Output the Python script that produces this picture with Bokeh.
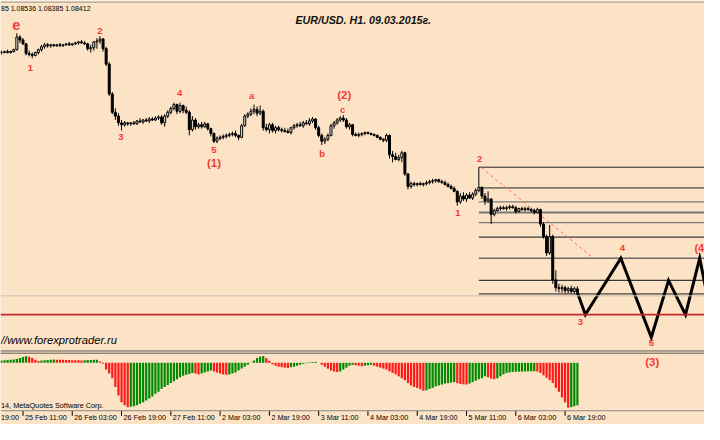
from bokeh.plotting import figure
from bokeh.models import Range1d, Span, Label, ColumnDataSource
from bokeh.core.properties import value
from bokeh.embed import file_html
from bokeh.resources import INLINE

# ---------------- data ----------------
bar = list(range(-7, 181))  # H1 bar index, 0 = 25 Feb 11:00

open_ = [1.1339, 1.1339, 1.1341, 1.1339, 1.1341, 1.1345, 1.1371,
         1.1365, 1.1357, 1.1337, 1.1335, 1.1333, 1.1339, 1.1345, 1.1351, 1.1355, 1.1353,
         1.1355, 1.1353, 1.1355, 1.1353, 1.1355, 1.1357, 1.1355, 1.1357, 1.1359, 1.1361,
         1.1359, 1.1357, 1.1347, 1.1349, 1.1361, 1.1363, 1.1367, 1.1347, 1.1315, 1.1253,
         1.1215, 1.1207, 1.1193, 1.1189, 1.1193, 1.1191, 1.1193, 1.1191, 1.1197, 1.1195,
         1.1199, 1.1197, 1.1201, 1.1199, 1.1203, 1.1205, 1.1193, 1.1207, 1.1215, 1.1223,
         1.1231, 1.1217, 1.1229, 1.1219, 1.1215, 1.1179, 1.1199, 1.1185, 1.1189, 1.1185,
         1.1191, 1.1181, 1.1171, 1.1155, 1.1161, 1.1163, 1.1165, 1.1167, 1.1169, 1.1171,
         1.1167, 1.1163, 1.1187, 1.1207, 1.1211, 1.1217, 1.1221, 1.1213, 1.1217, 1.1183,
         1.1179, 1.1189, 1.1177, 1.1183, 1.1179, 1.1177, 1.1175, 1.1173, 1.1183, 1.1187,
         1.1189, 1.1187, 1.1193, 1.1191, 1.1197, 1.1201, 1.1183, 1.1167, 1.1155, 1.1159,
         1.1167, 1.1187, 1.1193, 1.1199, 1.1203, 1.1199, 1.1185, 1.1189, 1.1169, 1.1167,
         1.1169, 1.1171, 1.1173, 1.1171, 1.1169, 1.1167, 1.1163, 1.1159, 1.1157, 1.1167,
         1.1127, 1.1123, 1.1117, 1.1121, 1.1131, 1.1087, 1.1061, 1.1067, 1.1065, 1.1067,
         1.1065, 1.1067, 1.1069, 1.1071, 1.1073, 1.1075, 1.1071, 1.1069, 1.1065, 1.1061,
         1.1057, 1.1051, 1.1029, 1.1041, 1.1035, 1.1043, 1.1037, 1.1045, 1.1053, 1.1059,
         1.1041, 1.1031, 1.1035, 1.1003, 1.1011, 1.1015, 1.1017, 1.1015, 1.1017, 1.1019,
         1.1017, 1.1009, 1.1015, 1.1013, 1.1015, 1.1013, 1.1011, 1.1007, 1.1013, 1.0983,
         1.0957, 1.0923, 1.0957, 1.0867, 1.0851, 1.0849, 1.0851, 1.0845, 1.0849, 1.0843,
         1.08485]

high = [1.1343, 1.1343, 1.1345, 1.1343, 1.1347, 1.1379, 1.1375,
        1.1369, 1.1359, 1.1343, 1.1339, 1.1341, 1.1347, 1.1355, 1.1359, 1.1359, 1.1357,
        1.1357, 1.1357, 1.1359, 1.1357, 1.1359, 1.1361, 1.1359, 1.1361, 1.1363, 1.1365,
        1.1363, 1.1359, 1.1355, 1.1363, 1.1369, 1.1373, 1.1369, 1.1351, 1.1319, 1.1257,
        1.1223, 1.1213, 1.1199, 1.1197, 1.1195, 1.1195, 1.1197, 1.1199, 1.1203, 1.1201,
        1.1203, 1.1205, 1.1205, 1.1207, 1.1209, 1.1209, 1.1211, 1.1219, 1.1227, 1.1235,
        1.1233, 1.1235, 1.1231, 1.1227, 1.1219, 1.1207, 1.1203, 1.1193, 1.1195, 1.1195,
        1.1193, 1.1183, 1.1173, 1.1165, 1.1167, 1.1169, 1.1171, 1.1173, 1.1175, 1.1177,
        1.1169, 1.1191, 1.1211, 1.1215, 1.1223, 1.1231, 1.1227, 1.1229, 1.1221, 1.1191,
        1.1193, 1.1193, 1.1187, 1.1187, 1.1183, 1.1183, 1.1181, 1.1185, 1.1191, 1.1193,
        1.1195, 1.1197, 1.1199, 1.1203, 1.1205, 1.1203, 1.1187, 1.1171, 1.1163, 1.1171,
        1.1191, 1.1197, 1.1203, 1.1207, 1.1209, 1.1203, 1.1193, 1.1191, 1.1173, 1.1173,
        1.1173, 1.1175, 1.1175, 1.1173, 1.1171, 1.1169, 1.1165, 1.1161, 1.1171, 1.1169,
        1.1135, 1.1131, 1.1127, 1.1135, 1.1133, 1.1089, 1.1071, 1.1071, 1.1069, 1.1071,
        1.1069, 1.1073, 1.1075, 1.1077, 1.1077, 1.1077, 1.1075, 1.1073, 1.1069, 1.1065,
        1.1061, 1.1053, 1.1047, 1.1049, 1.1047, 1.1049, 1.1049, 1.1057, 1.1101, 1.1061,
        1.1047, 1.1051, 1.1037, 1.1015, 1.1019, 1.1021, 1.1021, 1.1021, 1.1023, 1.1023,
        1.1021, 1.1017, 1.1019, 1.1019, 1.1019, 1.1017, 1.1015, 1.1017, 1.1015, 1.0987,
        1.0961, 1.0981, 1.0961, 1.0887, 1.0859, 1.0857, 1.0855, 1.0853, 1.0855, 1.0853,
        1.08536]

low = [1.1335, 1.1337, 1.1337, 1.1337, 1.1339, 1.1343, 1.1359,
       1.1355, 1.1333, 1.1331, 1.1327, 1.1331, 1.1335, 1.1341, 1.1347, 1.1349, 1.1349,
       1.1351, 1.1351, 1.1351, 1.1351, 1.1353, 1.1353, 1.1353, 1.1355, 1.1355, 1.1357,
       1.1355, 1.1343, 1.1339, 1.1343, 1.1347, 1.1357, 1.1341, 1.1311, 1.1249, 1.1211,
       1.1199, 1.1187, 1.1177, 1.1185, 1.1187, 1.1187, 1.1189, 1.1189, 1.1193, 1.1191,
       1.1195, 1.1193, 1.1197, 1.1197, 1.1199, 1.1189, 1.1185, 1.1203, 1.1211, 1.1219,
       1.1211, 1.1213, 1.1213, 1.1211, 1.1167, 1.1175, 1.1179, 1.1181, 1.1181, 1.1183,
       1.1177, 1.1165, 1.1151, 1.1151, 1.1157, 1.1159, 1.1161, 1.1163, 1.1165, 1.1163,
       1.1157, 1.1161, 1.1185, 1.1203, 1.1207, 1.1211, 1.1207, 1.1209, 1.1177, 1.1175,
       1.1171, 1.1173, 1.1171, 1.1175, 1.1173, 1.1173, 1.1171, 1.1169, 1.1179, 1.1183,
       1.1185, 1.1183, 1.1189, 1.1187, 1.1193, 1.1179, 1.1163, 1.1147, 1.1149, 1.1155,
       1.1165, 1.1181, 1.1189, 1.1195, 1.1195, 1.1181, 1.1179, 1.1165, 1.1165, 1.1163,
       1.1165, 1.1167, 1.1169, 1.1167, 1.1165, 1.1161, 1.1157, 1.1153, 1.1153, 1.1119,
       1.1111, 1.1115, 1.1113, 1.1111, 1.1083, 1.1055, 1.1057, 1.1061, 1.1061, 1.1063,
       1.1061, 1.1063, 1.1065, 1.1067, 1.1069, 1.1069, 1.1067, 1.1063, 1.1059, 1.1055,
       1.1049, 1.1021, 1.1025, 1.1031, 1.1029, 1.1035, 1.1033, 1.1041, 1.1049, 1.1035,
       1.1023, 1.1027, 1.0983, 1.0999, 1.1009, 1.1011, 1.1013, 1.1011, 1.1013, 1.1015,
       1.1005, 1.1007, 1.1011, 1.1009, 1.1011, 1.1007, 1.1003, 1.1005, 1.0977, 1.0953,
       1.0917, 1.0919, 1.0859, 1.0843, 1.0841, 1.0841, 1.0839, 1.0839, 1.0839, 1.0839,
       1.08385]

close = [1.1339, 1.1341, 1.1339, 1.1341, 1.1345, 1.1371, 1.1365,
         1.1357, 1.1337, 1.1335, 1.1333, 1.1339, 1.1345, 1.1351, 1.1355, 1.1353, 1.1355,
         1.1353, 1.1355, 1.1353, 1.1355, 1.1357, 1.1355, 1.1357, 1.1359, 1.1361, 1.1359,
         1.1357, 1.1347, 1.1349, 1.1361, 1.1363, 1.1367, 1.1347, 1.1315, 1.1253, 1.1215,
         1.1207, 1.1193, 1.1189, 1.1193, 1.1191, 1.1193, 1.1191, 1.1197, 1.1195, 1.1199,
         1.1197, 1.1201, 1.1199, 1.1203, 1.1205, 1.1193, 1.1207, 1.1215, 1.1223, 1.1231,
         1.1217, 1.1229, 1.1219, 1.1215, 1.1179, 1.1199, 1.1185, 1.1189, 1.1185, 1.1191,
         1.1181, 1.1171, 1.1155, 1.1161, 1.1163, 1.1165, 1.1167, 1.1169, 1.1171, 1.1167,
         1.1163, 1.1187, 1.1207, 1.1211, 1.1217, 1.1221, 1.1213, 1.1217, 1.1183, 1.1179,
         1.1189, 1.1177, 1.1183, 1.1179, 1.1177, 1.1175, 1.1173, 1.1183, 1.1187, 1.1189,
         1.1187, 1.1193, 1.1191, 1.1197, 1.1201, 1.1183, 1.1167, 1.1155, 1.1159, 1.1167,
         1.1187, 1.1193, 1.1199, 1.1203, 1.1199, 1.1185, 1.1189, 1.1169, 1.1167, 1.1169,
         1.1171, 1.1173, 1.1171, 1.1169, 1.1167, 1.1163, 1.1159, 1.1157, 1.1167, 1.1127,
         1.1123, 1.1117, 1.1121, 1.1131, 1.1087, 1.1061, 1.1067, 1.1065, 1.1067, 1.1065,
         1.1067, 1.1069, 1.1071, 1.1073, 1.1075, 1.1071, 1.1069, 1.1065, 1.1061, 1.1057,
         1.1051, 1.1029, 1.1041, 1.1035, 1.1043, 1.1037, 1.1045, 1.1053, 1.1059, 1.1041,
         1.1031, 1.1035, 1.1003, 1.1011, 1.1015, 1.1017, 1.1015, 1.1017, 1.1019, 1.1017,
         1.1009, 1.1015, 1.1013, 1.1015, 1.1013, 1.1011, 1.1007, 1.1013, 1.0983, 1.0957,
         1.0923, 1.0957, 1.0867, 1.0851, 1.0849, 1.0851, 1.0845, 1.0849, 1.0843, 1.0849,
         1.08412]

osma = [0.00025, 0.00027, 0.00030, 0.00032, 0.00035, 0.00040, 0.00050,
        0.00060, 0.00067, 0.00062, 0.00050, 0.00032, 0.00020, 0.00025, 0.00028, 0.00030, 0.00032,
        0.00034, 0.00033, 0.00032, 0.00031, 0.00030, 0.00029, 0.00028, 0.00027, 0.00026, 0.00025,
        0.00027, 0.00029, 0.00030, 0.00031, 0.00032, 0.00015, -0.00010, -0.00070, -0.00110, -0.00160,
        -0.00250, -0.00340, -0.00410, -0.00440, -0.00460, -0.00456, -0.00450, -0.00440, -0.00425, -0.00410,
        -0.00390, -0.00370, -0.00350, -0.00320, -0.00300, -0.00270, -0.00250, -0.00230, -0.00210, -0.00190,
        -0.00170, -0.00150, -0.00135, -0.00125, -0.00115, -0.00105, -0.00110, -0.00120, -0.00110, -0.00100,
        -0.00090, -0.00080, -0.00090, -0.00100, -0.00110, -0.00120, -0.00125, -0.00120, -0.00110, -0.00100,
        -0.00080, -0.00060, -0.00040, -0.00020, -0.00003, 0.00025, 0.00050, 0.00065, 0.00070, 0.00050,
        0.00020, -0.00015, -0.00030, -0.00040, -0.00045, -0.00050, -0.00053, -0.00045, -0.00040, -0.00030,
        -0.00020, -0.00010, -0.00005, 0.00005, 0.00008, 0.00010, 0.00000, -0.00020, -0.00040, -0.00060,
        -0.00080, -0.00090, -0.00095, -0.00090, -0.00070, -0.00050, -0.00030, -0.00020, -0.00025, -0.00030,
        -0.00035, -0.00030, -0.00025, -0.00020, -0.00030, -0.00040, -0.00050, -0.00060, -0.00070, -0.00090,
        -0.00105, -0.00120, -0.00140, -0.00160, -0.00180, -0.00210, -0.00235, -0.00250, -0.00260, -0.00275,
        -0.00290, -0.00285, -0.00270, -0.00260, -0.00245, -0.00235, -0.00225, -0.00215, -0.00210, -0.00205,
        -0.00200, -0.00210, -0.00220, -0.00223, -0.00225, -0.00215, -0.00200, -0.00185, -0.00170, -0.00160,
        -0.00140, -0.00150, -0.00165, -0.00170, -0.00160, -0.00140, -0.00120, -0.00105, -0.00100, -0.00095,
        -0.00093, -0.00092, -0.00091, -0.00090, -0.00089, -0.00088, -0.00087, -0.00090, -0.00105, -0.00130,
        -0.00155, -0.00180, -0.00210, -0.00260, -0.00300, -0.00360, -0.00410, -0.00465, -0.00460, -0.00450,
        -0.00440]

tick_bars = [0, 16, 32, 48, 64, 80, 96, 112, 128, 144, 160, 176]
tick_labels = ["25 Feb 11:00", "26 Feb 03:00", "26 Feb 19:00",
               "27 Feb 11:00", "2 Mar 03:00", "2 Mar 19:00", "3 Mar 11:00",
               "4 Mar 03:00", "4 Mar 19:00", "5 Mar 11:00", "6 Mar 03:00", "6 Mar 19:00"]
first_visible_label = "19:00"   # tail of "24 Feb 19:00", partly off the left edge

fib_start_bar = 148
fib_levels = [1.1101, 1.1058, 1.1029, 1.1007, 1.0986, 1.0956, 1.0912, 1.0866, 1.0838]

trend_bars = [148.8, 185.3]
trend_prices = [1.1100, 1.0912]

proj_bars = [180, 182.6, 194.1, 204.0, 209.6, 215.1, 219.7, 222.9]
proj_prices = [1.0841, 1.0795, 1.0912, 1.0748, 1.0866, 1.0795, 1.0912, 1.0811]

prev_low_level = 1.0834
support_level = 1.0795

small_text = ["1", "2", "3", "4", "5", "a", "b", "c", "1", "2", "3", "4", "5"]
small_bar = [2.4, 25.0, 31.8, 50.9, 62.0, 74.2, 97.1, 103.8, 141.2, 148.3, 181.0, 194.6, 204.0]
small_price = [1.1307, 1.1384, 1.1164, 1.1254, 1.1137, 1.1250, 1.1130, 1.1220,
               1.1005, 1.1119, 1.0780, 1.0934, 1.0737]

big_text = ["(1)", "(2)", "(3)"]
big_bar = [62.0, 104.3, 204.3]
big_price = [1.1110, 1.1250, 1.0697]

# ---------------- layout helpers ----------------
W, H = 704, 424
BG = "#fde3c5"
RED = "#f23a3a"
FONT = "Liberation Sans"


def sx(x):
    return x * W / 720.0


def sy(y):
    return (440.0 - y) * H / 440.0


p = figure(width=W, height=H, output_backend="svg", toolbar_location=None,
           x_range=Range1d(-7.3016, 221.27), y_range=Range1d(1.0567, 1.1447),
           x_axis_location=None, y_axis_location=None, min_border=0,
           background_fill_color=BG, border_fill_color=BG, outline_line_color=None)
p.extra_y_ranges = {"osc": Range1d(-0.0064, 0.0376)}
p.grid.visible = False

# window borders
for loc, col in [(1.14436, "#9a9a9a"), (1.07196, "#5a5a5a"), (1.07150, "#5a5a5a"),
                 (1.05956, "#8a8a8a")]:
    p.add_layout(Span(location=loc, dimension="width", line_color=col, line_width=1))

# horizontal levels
p.add_layout(Span(location=prev_low_level, dimension="width", line_color="#c9c2bb", line_width=1))
p.add_layout(Span(location=support_level, dimension="width", line_color="#c62828", line_width=1.6))

# fib grid
fib_colors = ["#222222", "#222222", "#7a7a7a", "#7a7a7a", "#7a7a7a", "#3a3a3a", "#6a6a6a", "#3a3a3a", "#1a1a1a"]
fib_widths = [1, 1, 1.3, 1.8, 1.3, 1.2, 1.5, 1.2, 1]
fib_src = ColumnDataSource(dict(x0=[fib_start_bar] * len(fib_levels), x1=[260] * len(fib_levels),
                                y=fib_levels, c=fib_colors, w=fib_widths))
p.segment(x0="x0", y0="y", x1="x1", y1="y", line_color="c", line_width="w", source=fib_src)

# trend line
p.line(trend_bars, trend_prices, line_color="#ff6a6a", line_dash="3 3", line_width=1)

# candles
bull = [c >= o for o, c in zip(open_, close)]
src = ColumnDataSource(dict(
    x=bar, h=high, l=low,
    top=[max(o, c) for o, c in zip(open_, close)],
    bottom=[min(o, c) for o, c in zip(open_, close)],
    fill=["#f4f0ea" if b else "black" for b in bull]))
p.segment(x0="x", y0="l", x1="x", y1="h", line_color="black", line_width=1, source=src)
p.vbar(x="x", top="top", bottom="bottom", width=0.64, fill_color="fill",
       line_color="black", line_width=1, source=src)

# projection zigzag
p.line(proj_bars, proj_prices, line_color="black", line_width=3, line_join="miter")

# oscillator histogram
osc_colors = []
for k, v in enumerate(osma):
    if k == 0 or v > osma[k - 1]:
        osc_colors.append("#008a00")
    else:
        osc_colors.append("#ff1a1a")
p.vbar(x=bar, top=osma, bottom=0, width=0.72, fill_color=osc_colors,
       line_color=None, y_range_name="osc")

# time axis ticks and labels
p.segment(x0=tick_bars, y0=[1.05956] * len(tick_bars), x1=tick_bars, y1=[1.0585] * len(tick_bars),
          line_color="black", line_width=1)
p.text(x=tick_bars, y=[1.0581] * len(tick_bars), text=tick_labels, x_offset=2,
       text_font=value(FONT), text_font_size="7.2px", text_color="black",
       text_align="left", text_baseline="middle")
p.add_layout(Label(x=0.5, y=sy(433), x_units="screen", y_units="screen",
                   text=first_visible_label, text_font=FONT, text_font_size="7.2px",
                   text_color="black", text_align="left", text_baseline="middle"))

# wave labels
p.text(x=small_bar, y=small_price, text=small_text, text_font=value(FONT),
       text_font_size="9.5px", text_font_style="bold", text_color=RED,
       text_align="center", text_baseline="middle")
p.text(x=big_bar, y=big_price, text=big_text, text_font=value(FONT),
       text_font_size="11.5px", text_font_style="bold", text_color=RED,
       text_align="center", text_baseline="middle")
p.text(x=[218.0], y=[1.0934], text=["(4"], text_font=value(FONT),
       text_font_size="11px", text_font_style="bold", text_color=RED,
       text_align="left", text_baseline="middle")
p.text(x=[-2.2], y=[1.1397], text=["e"], text_font=value(FONT),
       text_font_size="14.5px", text_font_style="bold", text_color=RED,
       text_align="center", text_baseline="middle")

# header / title / footers
p.add_layout(Label(x=0.5, y=sy(8.3), x_units="screen", y_units="screen",
                   text="85 1.08536 1.08385 1.08412",
                   text_font=FONT, text_font_size="7px", text_color="black",
                   text_align="left", text_baseline="middle"))
p.add_layout(Label(x=sx(371), y=sy(20), x_units="screen", y_units="screen",
                   text="EUR/USD. H1. 09.03.2015г.",
                   text_font=FONT, text_font_size="10.7px",
                   text_font_style="bold italic", text_color="#111111",
                   text_align="center", text_baseline="middle"))
p.add_layout(Label(x=0.5, y=sy(352.7), x_units="screen", y_units="screen",
                   text="//www.forexprotrader.ru",
                   text_font=FONT, text_font_size="11.2px",
                   text_font_style="italic", text_color="black",
                   text_align="left", text_baseline="middle"))
p.add_layout(Label(x=0.5, y=sy(420), x_units="screen", y_units="screen",
                   text="14, MetaQuotes Software Corp.",
                   text_font=FONT, text_font_size="7.3px", text_color="black",
                   text_align="left", text_baseline="middle"))

open("out.html", "w").write(file_html(p, INLINE))
